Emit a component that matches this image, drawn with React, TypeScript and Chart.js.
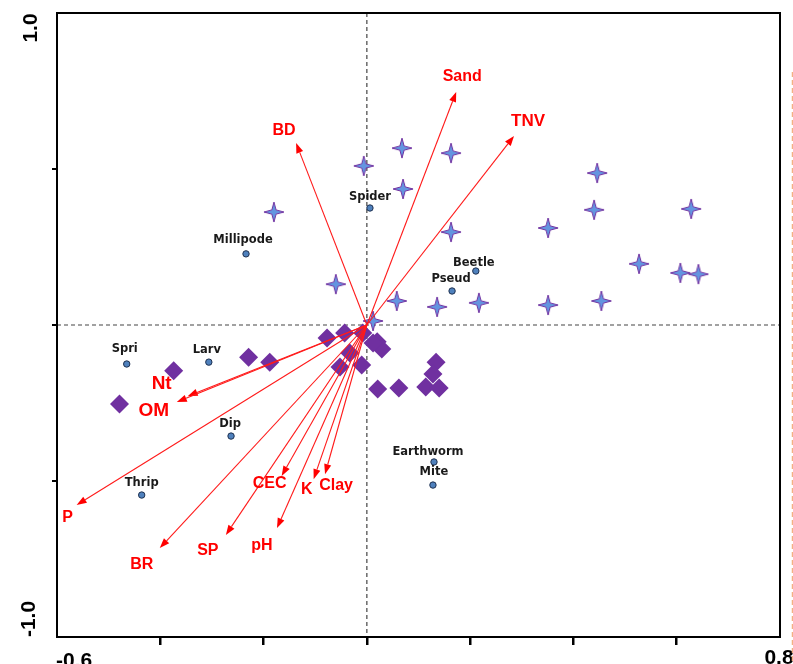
import React, { useEffect, useRef } from "react";
import { Chart, registerables } from "chart.js";

Chart.register(...registerables);

// ---- axis ticks ----
const xTickValues = [-0.6, -0.4, -0.2, 0, 0.2, 0.4, 0.6, 0.8];
const yTickValues = [-1.0, -0.5, 0, 0.5, 1.0];
const xEndLabels = ["-0.6", "0.8"];
const yEndLabels = ["1.0", "-1.0"];

// ---- species (small circles) ----
const speciesNames = ["Spider", "Millipode", "Beetle", "Pseud", "Spri", "Larv", "Dip", "Thrip", "Earthworm", "Mite"];
const speciesX = [0.006, -0.234, 0.211, 0.165, -0.465, -0.306, -0.263, -0.436, 0.13, 0.128];
const speciesY = [0.375, 0.228, 0.173, 0.109, -0.125, -0.119, -0.356, -0.545, -0.439, -0.513];
const speciesLabelDx = [0, -3, -2, -1, -2, -2, -1, 0, -6, 1];
const speciesLabelDy = [-11, -14, -8, -12, -15, -12, -12, -12, -10, -13];

// ---- sites: diamonds ----
const diamondX = [-0.479, -0.374, -0.229, -0.188, -0.077, -0.043, -0.008, 0.02, 0.029, -0.033, -0.052, -0.01, 0.021, 0.062, 0.134, 0.128, 0.114, 0.14, 0.012];
const diamondY = [-0.253, -0.147, -0.103, -0.119, -0.042, -0.026, -0.026, -0.054, -0.077, -0.09, -0.135, -0.128, -0.205, -0.202, -0.119, -0.157, -0.199, -0.202, -0.058];

// ---- sites: stars ----
const starX = [-0.006, 0.068, 0.163, 0.07, -0.18, 0.163, -0.06, 0.058, 0.136, 0.217, 0.012, 0.351, 0.446, 0.44, 0.628, 0.527, 0.607, 0.642, 0.351, 0.454];
const starY = [0.51, 0.567, 0.551, 0.436, 0.362, 0.298, 0.131, 0.077, 0.058, 0.071, 0.013, 0.311, 0.487, 0.369, 0.372, 0.196, 0.167, 0.163, 0.064, 0.077];

// ---- environmental vectors ----
const envNames = ["Sand", "TNV", "BD", "Nt", "OM", "P", "BR", "SP", "pH", "CEC", "K", "Clay"];
const envX = [0.173, 0.285, -0.137, -0.347, -0.368, -0.562, -0.401, -0.273, -0.174, -0.165, -0.103, -0.081];
const envY = [0.747, 0.606, 0.583, -0.228, -0.247, -0.577, -0.715, -0.673, -0.651, -0.484, -0.494, -0.478];
const envLabelDx = [6, 14, -12, -26, -23, -9, -18, -18, -15, -12, -7, 11];
const envLabelDy = [-15, -15, -13, -12, 9, 13, 17, 16, 17, 8, 10, 11];
const envLabelSize = [16, 17, 16, 19, 19, 16, 16, 16, 16, 16, 16, 16];

function makeStar(): HTMLCanvasElement {
  const c = document.createElement("canvas");
  c.width = 24;
  c.height = 24;
  const g = c.getContext("2d")!;
  const R = 10;
  const r = 3;
  g.beginPath();
  for (let i = 0; i < 8; i++) {
    const ang = -Math.PI / 2 + (i * Math.PI) / 4;
    const rad = i % 2 === 0 ? R : r;
    const px = 12 + rad * Math.cos(ang);
    const py = 12 + rad * Math.sin(ang);
    if (i === 0) g.moveTo(px, py);
    else g.lineTo(px, py);
  }
  g.closePath();
  g.fillStyle = "#6395e0";
  g.fill();
  g.strokeStyle = "#7030a0";
  g.lineWidth = 1;
  g.lineJoin = "miter";
  g.stroke();
  return c;
}

const overlayPlugin = {
  id: "overlay",
  beforeDatasetsDraw(chart: any) {
    const { ctx, chartArea: a, scales } = chart;
    const x0 = scales.x.getPixelForValue(0);
    const y0 = scales.y.getPixelForValue(0);
    ctx.save();
    ctx.strokeStyle = "#444";
    ctx.lineWidth = 1.2;
    ctx.setLineDash([4, 3]);
    ctx.beginPath();
    ctx.moveTo(x0, a.top);
    ctx.lineTo(x0, a.bottom);
    ctx.moveTo(a.left, y0);
    ctx.lineTo(a.right, y0);
    ctx.stroke();
    ctx.restore();
  },
  afterDatasetsDraw(chart: any) {
    const { ctx, scales } = chart;
    const sx = scales.x;
    const sy = scales.y;
    const ox = sx.getPixelForValue(0);
    const oy = sy.getPixelForValue(0);

    // arrows
    ctx.save();
    ctx.strokeStyle = "#ff1a1a";
    ctx.fillStyle = "#ff0000";
    ctx.lineWidth = 1.1;
    envNames.forEach((name, i) => {
      const tx = sx.getPixelForValue(envX[i]);
      const ty = sy.getPixelForValue(envY[i]);
      const ang = Math.atan2(ty - oy, tx - ox);
      const L = 10;
      const W = 3.6;
      const bx = tx - L * Math.cos(ang);
      const by = ty - L * Math.sin(ang);
      ctx.beginPath();
      ctx.moveTo(ox, oy);
      ctx.lineTo(bx, by);
      ctx.stroke();
      ctx.beginPath();
      ctx.moveTo(tx, ty);
      ctx.lineTo(bx + W * Math.sin(ang), by - W * Math.cos(ang));
      ctx.lineTo(bx - W * Math.sin(ang), by + W * Math.cos(ang));
      ctx.closePath();
      ctx.fill();
      ctx.font = `bold ${envLabelSize[i]}px "Liberation Sans", Arial, sans-serif`;
      ctx.textAlign = "center";
      ctx.textBaseline = "middle";
      ctx.fillText(name, tx + envLabelDx[i], ty + envLabelDy[i]);
    });
    ctx.restore();

    // species labels
    ctx.save();
    ctx.fillStyle = "#1a1a1a";
    ctx.font = 'bold 11.5px "DejaVu Sans", sans-serif';
    ctx.textAlign = "center";
    ctx.textBaseline = "middle";
    speciesNames.forEach((name, i) => {
      const px = sx.getPixelForValue(speciesX[i]);
      const py = sy.getPixelForValue(speciesY[i]);
      ctx.fillText(name, px + speciesLabelDx[i], py + speciesLabelDy[i]);
    });
    ctx.restore();
  },
  afterDraw(chart: any) {
    const { ctx, chartArea: a } = chart;
    ctx.save();
    // frame
    ctx.strokeStyle = "#000";
    ctx.lineWidth = 2;
    ctx.strokeRect(a.left, a.top, a.right - a.left, a.bottom - a.top);

    // end labels
    ctx.fillStyle = "#000";
    ctx.font = 'bold 21px "Liberation Sans", Arial, sans-serif';
    ctx.textAlign = "center";
    ctx.textBaseline = "alphabetic";
    ctx.fillText(xEndLabels[0], a.left + 17, a.bottom + 30);
    ctx.fillText(xEndLabels[1], a.right - 1, a.bottom + 27);

    ctx.textBaseline = "middle";
    ctx.save();
    ctx.translate(a.left - 26, a.top + 15);
    ctx.rotate(-Math.PI / 2);
    ctx.fillText(yEndLabels[0], 0, 0);
    ctx.restore();
    ctx.save();
    ctx.translate(a.left - 28, a.bottom - 18);
    ctx.rotate(-Math.PI / 2);
    ctx.fillText(yEndLabels[1], 0, 0);
    ctx.restore();

    // orange dashed line at right edge
    ctx.strokeStyle = "#f4b183";
    ctx.lineWidth = 1.5;
    ctx.setLineDash([5, 3]);
    ctx.beginPath();
    ctx.moveTo(a.right + 12.5, 72);
    ctx.lineTo(a.right + 12.5, chart.height);
    ctx.stroke();
    ctx.restore();
  },
};

export default function App() {
  const ref = useRef<HTMLCanvasElement | null>(null);

  useEffect(() => {
    if (!ref.current) return;
    const star = makeStar();
    const isEnd = (v: number, arr: number[]) =>
      Math.abs(v - arr[0]) < 1e-9 || Math.abs(v - arr[arr.length - 1]) < 1e-9;

    const chart = new Chart(ref.current, {
      type: "scatter",
      data: {
        datasets: [
          {
            label: "diamonds",
            data: diamondX.map((x, i) => ({ x, y: diamondY[i] })),
            pointStyle: "rectRot",
            pointRadius: 9.5,
            backgroundColor: "#7030a0",
            borderColor: "#7030a0",
            borderWidth: 0,
          },
          {
            label: "stars",
            data: starX.map((x, i) => ({ x, y: starY[i] })),
            pointStyle: star as any,
            pointRadius: 10,
          },
          {
            label: "species",
            data: speciesX.map((x, i) => ({ x, y: speciesY[i] })),
            pointStyle: "circle",
            pointRadius: 3.2,
            backgroundColor: "#4f81bd",
            borderColor: "#1f3150",
            borderWidth: 1,
          },
        ],
      },
      options: {
        animation: false,
        responsive: false,
        layout: { padding: { left: 52, right: 13, top: 13, bottom: 19 } },
        plugins: { legend: { display: false }, tooltip: { enabled: false } },
        scales: {
          x: {
            type: "linear",
            min: -0.6,
            max: 0.8,
            afterBuildTicks: (s: any) => {
              s.ticks = xTickValues.map((v) => ({ value: v }));
            },
            ticks: { display: false },
            border: { display: false },
            grid: {
              drawOnChartArea: false,
              drawTicks: true,
              tickLength: 8,
              lineWidth: 2.5,
              color: (c: any) => (c.tick && isEnd(c.tick.value, xTickValues) ? "rgba(0,0,0,0)" : "#000"),
            },
          },
          y: {
            type: "linear",
            min: -1,
            max: 1,
            afterBuildTicks: (s: any) => {
              s.ticks = yTickValues.map((v) => ({ value: v }));
            },
            ticks: { display: false },
            border: { display: false },
            grid: {
              drawOnChartArea: false,
              drawTicks: true,
              tickLength: 5,
              lineWidth: 2,
              color: (c: any) => (c.tick && isEnd(c.tick.value, yTickValues) ? "rgba(0,0,0,0)" : "#000"),
            },
          },
        },
      },
      plugins: [overlayPlugin],
    });
    return () => chart.destroy();
  }, []);

  return (
    <div style={{ position: "fixed", left: 0, top: 0, width: 793, height: 664, background: "#fff" }}>
      <canvas ref={ref} width={793} height={664} style={{ display: "block" }} />
    </div>
  );
}
